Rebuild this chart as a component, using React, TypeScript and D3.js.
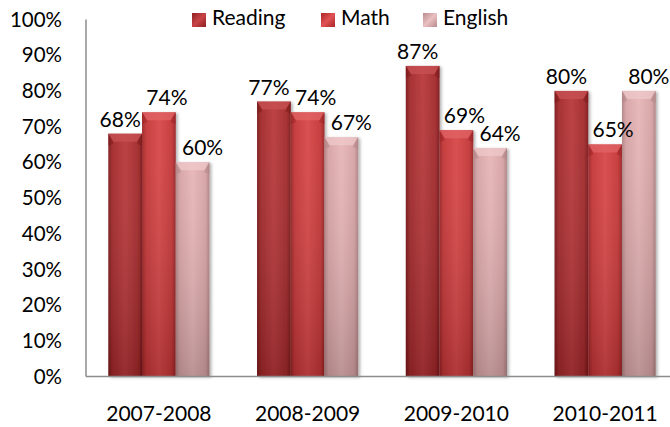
import React from "react";
import * as d3 from "d3";

const categories = ["2007-2008", "2008-2009", "2009-2010", "2010-2011"];
const seriesNames = ["Reading", "Math", "English"];
const reading = [68, 77, 87, 80];
const math = [74, 74, 69, 65];
const english = [60, 67, 64, 80];
const yTicks = [0, 10, 20, 30, 40, 50, 60, 70, 80, 90, 100];

const seriesValues = [reading, math, english];

const W = 670;
const H = 427;
const FONT = "Lato, 'Open Sans', sans-serif";

const palette = [
  { edge: "#7a1618", mid: "#a2282a", light: "#b8373a", cap: "#c85254", legendA: "#8e1f22", legendB: "#c84446" },
  { edge: "#992224", mid: "#c43536", light: "#d84647", cap: "#e26466", legendA: "#a82628", legendB: "#e05253" },
  { edge: "#b08284", mid: "#d6a2a4", light: "#e6b5b7", cap: "#efcacb", legendA: "#b88a8c", legendB: "#eac0c1" },
];
const labelDx = [-5, 8, 10];

export default function App() {
  const x = d3.scaleBand<string>().domain(categories).range([86, 678]).paddingInner(0.32).paddingOuter(0.15);
  const xs = d3.scaleBand<string>().domain(seriesNames).range([0, x.bandwidth()]).padding(0);
  const y = d3.scaleLinear().domain([0, 100]).range([376.5, 19.5]);
  const bw = xs.bandwidth();

  const legendItems = [
    { name: "Reading", sx: 192, tx: 212 },
    { name: "Math", sx: 321, tx: 341 },
    { name: "English", sx: 423, tx: 443 },
  ];

  return (
    <svg width={W} height={H} style={{ position: "absolute", left: 0, top: 0, background: "#fff" }}>
      <defs>
        {palette.map((p, i) => (
          <linearGradient key={"h" + i} id={"hg" + i} x1="0" x2="1" y1="0" y2="0">
            <stop offset="0" stopColor={p.edge} />
            <stop offset="0.12" stopColor={p.mid} />
            <stop offset="0.5" stopColor={p.light} />
            <stop offset="0.88" stopColor={p.mid} />
            <stop offset="1" stopColor={p.edge} />
          </linearGradient>
        ))}
        <linearGradient id="vshade" x1="0" x2="0" y1="0" y2="1">
          <stop offset="0" stopColor="#ffffff" stopOpacity="0.05" />
          <stop offset="1" stopColor="#000000" stopOpacity="0.18" />
        </linearGradient>
        {palette.map((p, i) => (
          <linearGradient key={"l" + i} id={"lg" + i} x1="0" x2="1" y1="0" y2="1">
            <stop offset="0" stopColor={p.legendA} />
            <stop offset="0.5" stopColor={p.legendB} />
            <stop offset="1" stopColor={p.legendA} />
          </linearGradient>
        ))}
        <filter id="shadow" x="-20%" y="-5%" width="150%" height="115%">
          <feDropShadow dx="2" dy="1" stdDeviation="1.5" floodColor="#000" floodOpacity="0.3" />
        </filter>
      </defs>

      {/* y tick labels */}
      {yTicks.map((t) => (
        <text key={t} x={62} y={y(t) + 2} textAnchor="end" dominantBaseline="middle" fontFamily={FONT} fontSize={20.5} fill="#000">
          {t + "%"}
        </text>
      ))}

      {/* bars */}
      {categories.map((c, ci) => (
        <g key={c} transform={`translate(${x(c)},0)`}>
          {seriesNames.map((s, si) => {
            const v = seriesValues[si][ci];
            const bx = xs(s)!;
            const top = y(v);
            const h = y(0) - top;
            const p = palette[si];
            const capH = 8;
            return (
              <g key={s}>
                <rect x={bx} y={top} width={bw} height={h} fill={`url(#hg${si})`} filter="url(#shadow)" />
                <rect x={bx} y={top} width={bw} height={h} fill="url(#vshade)" />
                <polygon
                  points={`${bx},${top} ${bx + bw},${top} ${bx + bw - 5},${top + capH} ${bx + 5},${top + capH}`}
                  fill={p.cap}
                  opacity={0.75}
                />
                <polygon
                  points={`${bx},${top} ${bx + 5},${top + capH} ${bx + 5},${top + capH + 2} ${bx},${top + capH + 4}`}
                  fill={p.edge}
                  opacity={0.45}
                />
                <polygon
                  points={`${bx + bw},${top} ${bx + bw - 5},${top + capH} ${bx + bw - 5},${top + capH + 2} ${bx + bw},${top + capH + 4}`}
                  fill={p.edge}
                  opacity={0.45}
                />
              </g>
            );
          })}
        </g>
      ))}

      {/* axes */}
      <line x1={86} x2={86} y1={y(100)} y2={y(0)} stroke="#8c8c8c" strokeWidth={1.5} />
      <line x1={86} x2={W} y1={y(0)} y2={y(0)} stroke="#8c8c8c" strokeWidth={1.5} />

      {/* value labels */}
      {categories.map((c, ci) =>
        seriesNames.map((s, si) => {
          const v = seriesValues[si][ci];
          return (
            <text
              key={c + s}
              x={x(c)! + xs(s)! + bw / 2 + labelDx[si]}
              y={y(v) - 7}
              textAnchor="middle"
              fontFamily={FONT}
              fontSize={21}
              fill="#000"
            >
              {v + "%"}
            </text>
          );
        })
      )}

      {/* x labels */}
      {categories.map((c) => (
        <text key={c} x={x(c)! + x.bandwidth() / 2} y={421} textAnchor="middle" fontFamily={FONT} fontSize={21} fill="#000">
          {c}
        </text>
      ))}

      {/* legend */}
      {legendItems.map((l, i) => (
        <g key={l.name}>
          <rect x={l.sx} y={13} width={14} height={14} fill={`url(#lg${i})`} />
          <text x={l.tx} y={20} dominantBaseline="middle" fontFamily={FONT} fontSize={21} fill="#000">
            {l.name}
          </text>
        </g>
      ))}
    </svg>
  );
}
